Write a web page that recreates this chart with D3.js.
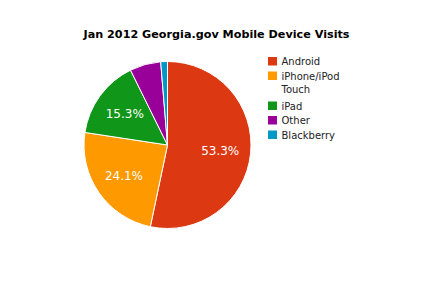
<!DOCTYPE html>
<html>
<head>
<meta charset="utf-8">
<script src="https://cdn.jsdelivr.net/npm/d3@7"></script>
<style>
	body { margin: 0; background: #fff; }
	svg { display: block; font-family: "DejaVu Sans", Verdana, sans-serif; }
</style>
</head>
<body>
<div id="chart"></div>
<script>
// Data
const categories = ["Android", "iPhone/iPod Touch", "iPad", "Other", "Blackberry"];
const legendLines = [["Android"], ["iPhone/iPod", "Touch"], ["iPad"], ["Other"], ["Blackberry"]];
const shares = [53.3, 24.1, 15.3, 6.0, 1.3];
const colors = ["#dc3912", "#ff9900", "#109618", "#990099", "#0099c6"];
const title = "Jan 2012 Georgia.gov Mobile Device Visits";

const width = 440, height = 290;
const cx = 167.5, cy = 145, radius = 83.5;

const svg = d3.select("#chart").append("svg")
	.attr("width", width).attr("height", height);

svg.append("text")
	.attr("x", 216.5).attr("y", 38)
	.attr("text-anchor", "middle")
	.style("font-size", "11.2px").style("font-weight", "bold")
	.attr("fill", "#000")
	.text(title);

const rows = categories.map((c, i) => ({ name: c, lines: legendLines[i], value: shares[i], color: colors[i] }));

// Pie
const pieGen = d3.pie().sort(null).value(d => d.value);
const arcGen = d3.arc().innerRadius(0).outerRadius(radius);
const labelArc = d3.arc().innerRadius(53).outerRadius(53);
const total = d3.sum(shares);

const pie = svg.append("g").attr("transform", `translate(${cx}, ${cy})`);

pie.selectAll("path.slice")
	.data(pieGen(rows))
	.join("path")
	.classed("slice", true)
	.attr("d", arcGen)
	.attr("fill", d => d.data.color)
	.attr("stroke", "#fff").attr("stroke-width", 1);

pie.selectAll("text.pct")
	.data(pieGen(rows).filter(d => d.data.value / total > 0.1))
	.join("text")
	.classed("pct", true)
	.attr("transform", d => `translate(${labelArc.centroid(d)})`)
	.attr("text-anchor", "middle").attr("dy", "0.36em")
	.attr("fill", "#fff").style("font-size", "12px")
	.text(d => (d.data.value / total * 100).toFixed(1) + "%");

// Legend
const legend = svg.append("g").attr("transform", "translate(268, 57)");
let yOff = 0;
rows.forEach(r => {
	const g = legend.append("g").attr("transform", `translate(0, ${yOff})`);
	g.append("rect").attr("width", 9).attr("height", 8.5).attr("fill", r.color);
	g.append("text")
		.attr("x", 13.5).attr("y", 8)
		.style("font-size", "10px").attr("fill", "#222")
		.selectAll("tspan")
		.data(r.lines)
		.join("tspan")
		.attr("x", 13.5).attr("dy", (d, i) => i ? 13.5 : 0)
		.text(d => d);
	yOff += 14.5 + (r.lines.length - 1) * 15.5;
});
</script>
</body>
</html>
